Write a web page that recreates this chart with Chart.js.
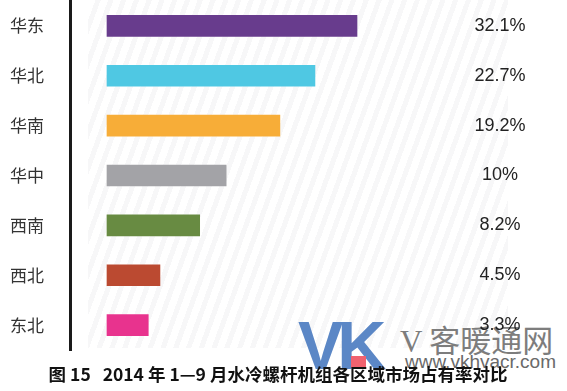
<!DOCTYPE html>
<html>
<head>
<meta charset="utf-8">
<script src="https://cdn.jsdelivr.net/npm/chart.js@4/dist/chart.umd.min.js"></script>
<style>
  html, body { margin: 0; padding: 0; background: #fff; }
  #wrap { position: relative; width: 567px; height: 391px; overflow: hidden; }
  #stripes {
    position: absolute; left: 88px; top: 0; width: 420px; height: 348px;
    background: repeating-linear-gradient(110deg, #fff 0 7px, #f7f7f8 7px 12px);
  }
  .wm { position: absolute; font-family: "Liberation Sans", Arial, sans-serif; white-space: nowrap; }
  #vk { left: 298px; top: 306px; font-size: 68px; font-weight: bold; color: #5b87c6; letter-spacing: -6px; }
  #vkbar { position: absolute; left: 351px; top: 356px; width: 15px; height: 12px; background: #f0626f; }
  #cn { left: 400px; top: 316px; font-size: 31px; color: #7d7d7d; font-family: "Noto Sans CJK SC", sans-serif; }
  #cn span { font-family: "Liberation Serif", serif; }
  #url { left: 405px; top: 351px; font-size: 19px; color: #6a6a6a; }
  canvas { position: absolute; left: 0; top: 0; }
</style>
</head>
<body>
<div id="wrap">
  <div id="stripes"></div>
  <div class="wm" id="vk">VK</div>
  <div id="vkbar"></div>
  <div class="wm" id="cn"><span>V</span> 客暖通网</div>
  <div class="wm" id="url">www.vkhvacr.com</div>
  <canvas id="c" width="567" height="391"></canvas>
</div>
<script>
const regions = ['华东', '华北', '华南', '华中', '西南', '西北', '东北'];
const shareLabels = ['32.1%', '22.7%', '19.2%', '10%', '8.2%', '4.5%', '3.3%'];
// the source draws bars that are not proportional to the shares; lengths
const barLength = [32.1, 26.7, 22.2, 15.3, 11.9, 6.8, 5.3];
const barColors = ['#683c8d', '#4fc8e3', '#f7ad38', '#a3a3a7', '#688b42', '#bb4a31', '#e8338e'];
const titleText = '图 15   2014 年 1—9 月水冷螺杆机组各区域市场占有率对比';

// share text to the right of each bar
const shareText = {
  id: 'shareText',
  afterDatasetsDraw(chart) {
    const ctx = chart.ctx;
    const meta = chart.getDatasetMeta(0);
    ctx.save();
    ctx.font = '18px "Liberation Sans", Arial, sans-serif';
    ctx.fillStyle = '#222';
    ctx.textAlign = 'center';
    ctx.textBaseline = 'middle';
    meta.data.forEach((bar, i) => {
      ctx.fillText(shareLabels[i], 500, bar.y);
    });
    ctx.restore();
  }
};

new Chart(document.getElementById('c'), {
  type: 'bar',
  data: {
    labels: regions,
    datasets: [{
      data: barLength,
      backgroundColor: barColors,
      barThickness: 21,
    }],
  },
  options: {
    indexAxis: 'y',
    responsive: false,
    animation: false,
    layout: { padding: { top: 1, right: 11, left: 0, bottom: 0 } },
    plugins: {
      legend: { display: false },
      tooltip: { enabled: false },
      title: {
        display: true,
        position: 'bottom',
        text: titleText,
        color: '#111',
        font: { family: '"Noto Sans CJK SC", sans-serif', size: 17.5, weight: 'bold' },
        padding: { top: 14, bottom: 6 },
      },
    },
    scales: {
      x: { display: false, min: -4.75, max: 57.65 },
      y: {
        afterFit(scale) {
          scale.width = 70;
          // tick padding would otherwise push the plot area down
          scale.paddingTop = 0;
          scale.paddingBottom = 0;
        },
        grid: { display: false, drawTicks: false },
        border: { display: true, color: '#1a1a1a', width: 3 },
        ticks: {
          padding: 26,
          color: '#333',
          font: { family: '"Noto Sans CJK SC", sans-serif', size: 17 },
        },
      },
    },
  },
  plugins: [shareText],
});
</script>
</body>
</html>
